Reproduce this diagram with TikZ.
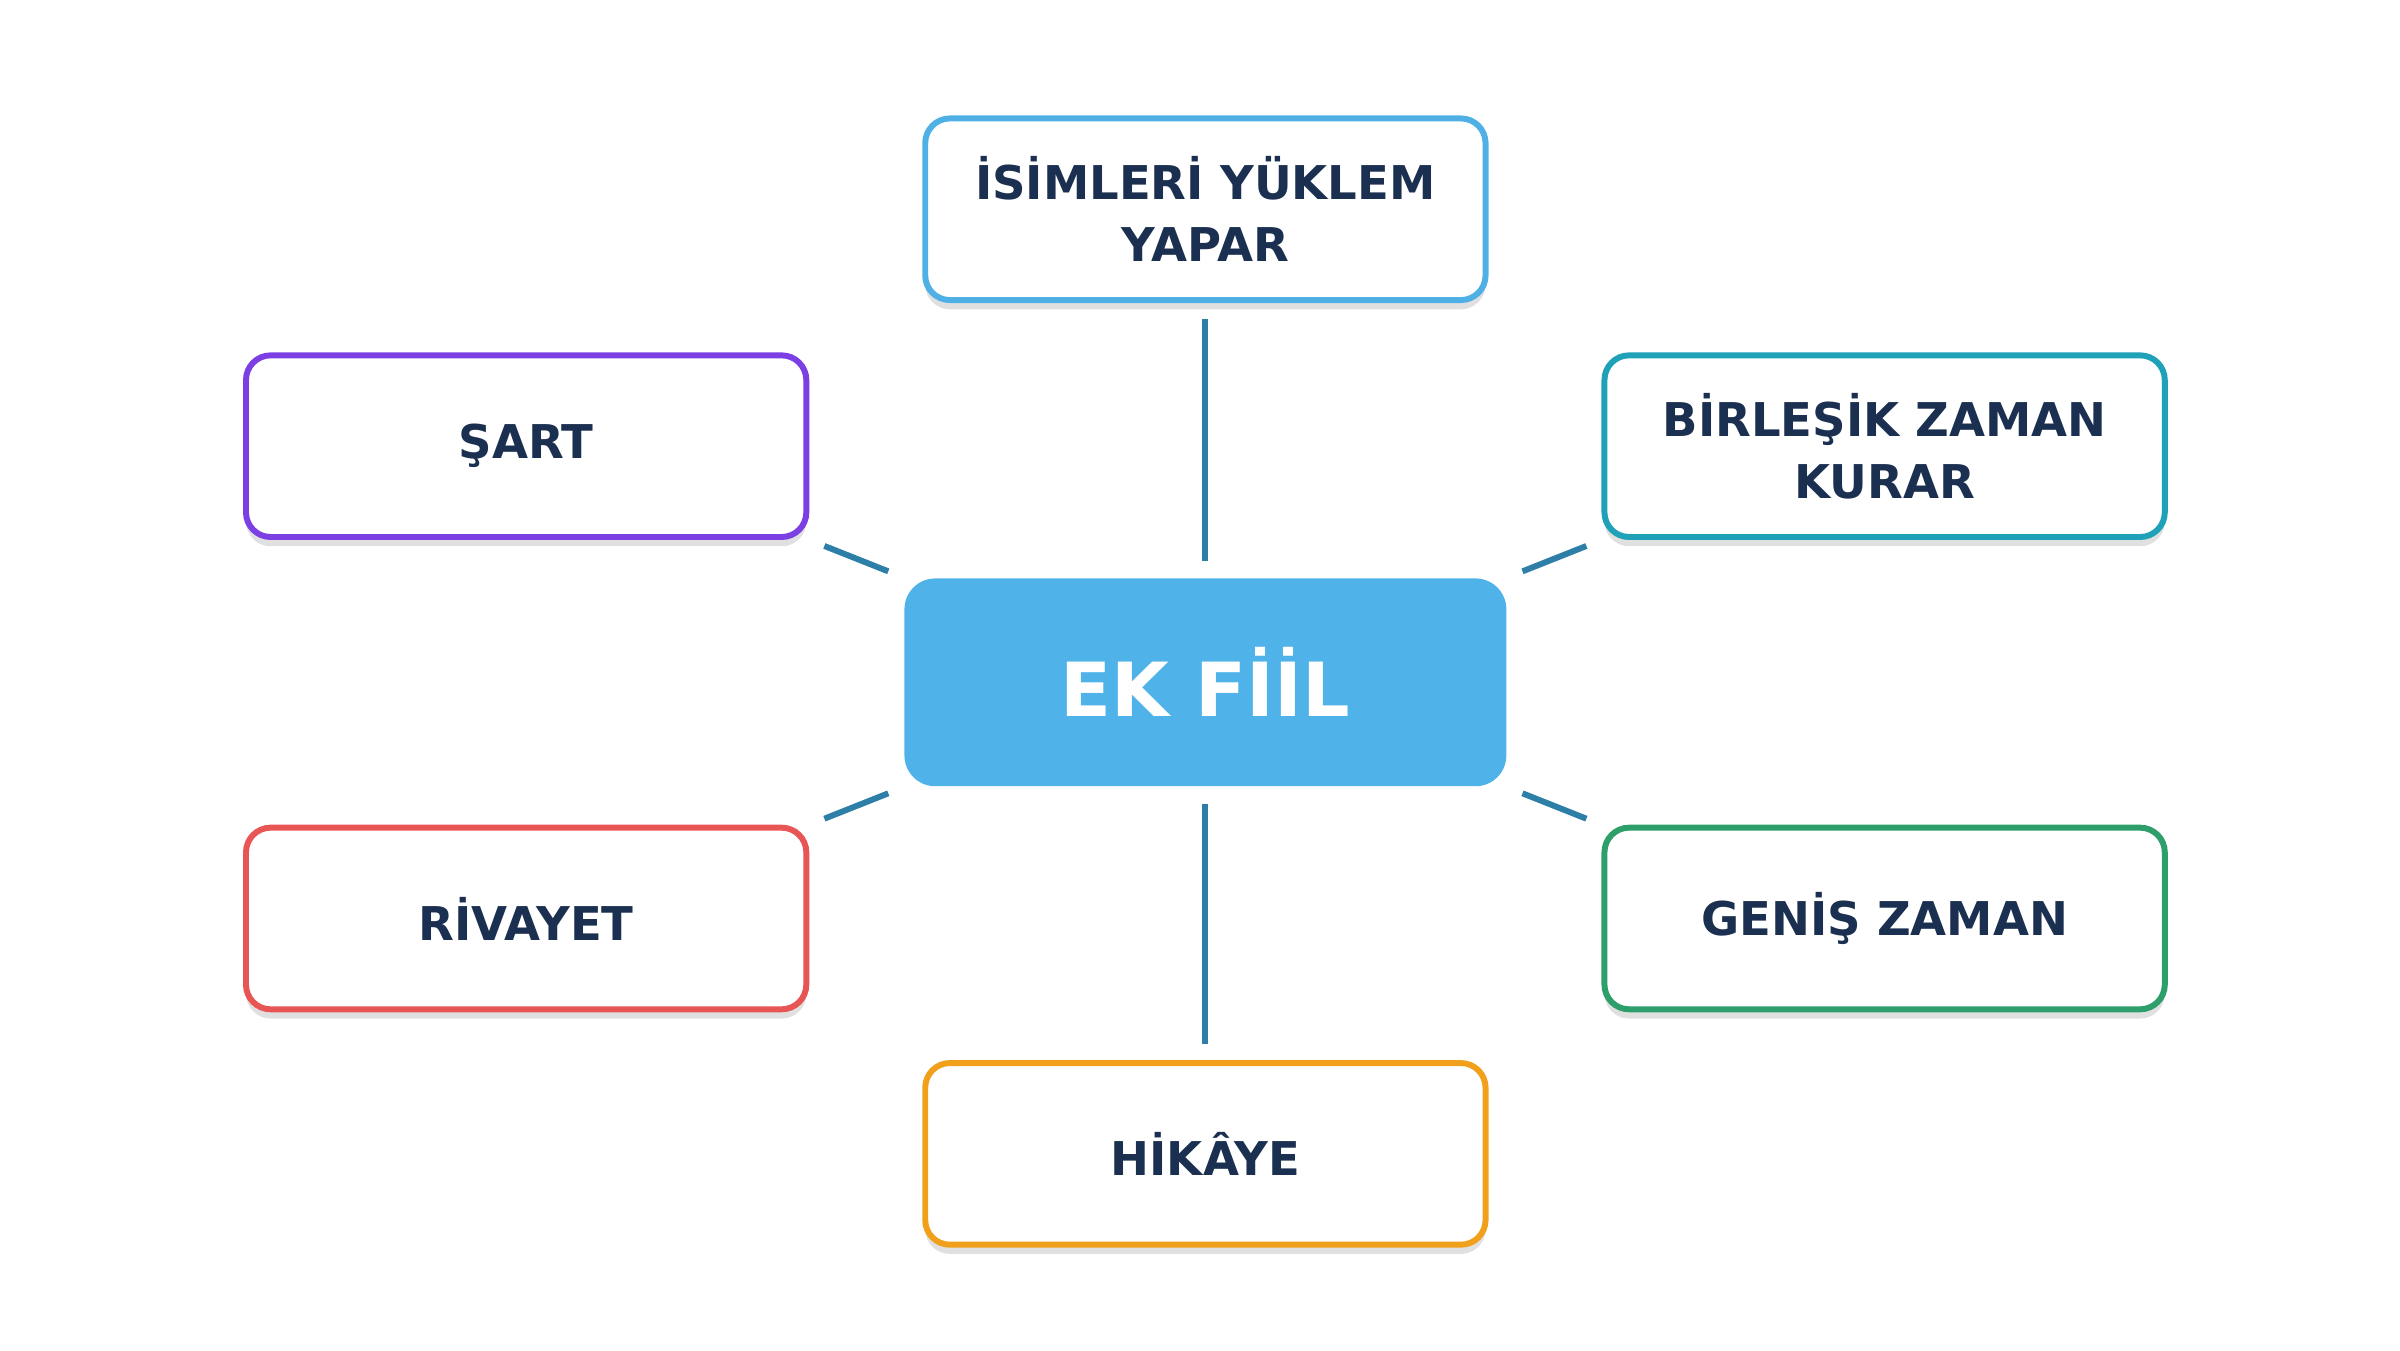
\documentclass[tikz,border=0pt]{standalone}
\usepackage{fontspec}
\setmainfont{DejaVu Sans}
\usetikzlibrary{shadows}
\definecolor{txt}{HTML}{1B3050}
\definecolor{conn}{HTML}{2E7FA8}
\definecolor{cfill}{HTML}{4FB3EA}
\definecolor{cblue}{HTML}{4FB0E6}
\definecolor{cpurple}{HTML}{7B3FE4}
\definecolor{cteal}{HTML}{1FA2B8}
\definecolor{cred}{HTML}{E85555}
\definecolor{cgreen}{HTML}{2E9E6A}
\definecolor{corange}{HTML}{F0A01A}
\begin{document}
\begin{tikzpicture}[x=0.01cm,y=-0.01cm,
  box/.style={draw=#1, line width=1.1pt, fill=white, rounded corners=0.16cm,
    minimum width=3.64cm, minimum height=1.18cm, align=center, text=txt,
    font=\fontsize{8.6}{11.5}\selectfont\bfseries,
    drop shadow={shadow xshift=0pt, shadow yshift=-0.06cm, opacity=0.12, fill=black}},
  conn/.style={draw=conn, line width=1.1pt, shorten >=3pt, shorten <=3pt}]
\useasboundingbox (0,0) rectangle (1560,877.5);
\node[fill=cfill, rounded corners=0.2cm, minimum width=3.91cm, minimum height=1.35cm,
  text=white, font=\fontsize{13.8}{16}\selectfont\bfseries] (c) at (783.5,443.5) {EK FİİL};
\node[box=cblue] (t) at (783.5,136) {İSİMLERİ YÜKLEM\\YAPAR};
\node[box=cpurple] (s) at (342,290) {ŞART};
\node[box=cteal] (b) at (1225,290) {BİRLEŞİK ZAMAN\\KURAR};
\node[box=cred] (r) at (342,597) {RİVAYET};
\node[box=cgreen] (g) at (1225,597) {GENİŞ ZAMAN};
\node[box=corange] (h) at (783.5,750) {HİKÂYE};
\draw[conn] (t.south) -- (c.north);
\draw[conn] (c.south) -- (h.north);
\draw[conn] (s.south east) -- (c.north west);
\draw[conn] (b.south west) -- (c.north east);
\draw[conn] (r.north east) -- (c.south west);
\draw[conn] (g.north west) -- (c.south east);
\end{tikzpicture}
\end{document}
